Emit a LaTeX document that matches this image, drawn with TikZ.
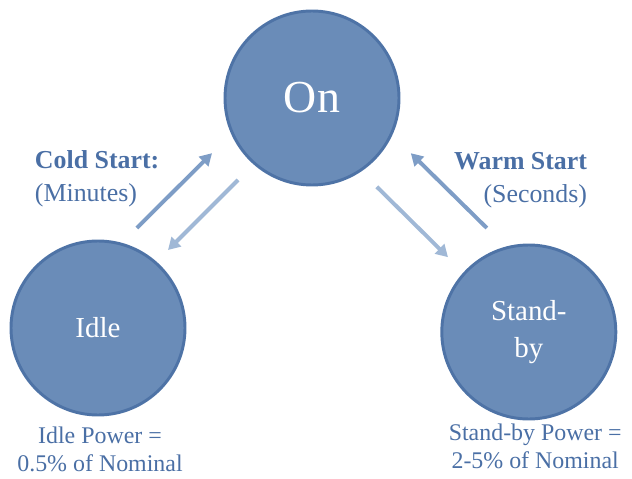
\documentclass[tikz,border=0pt]{standalone}
\usepackage{fontspec}
\setmainfont{Liberation Serif}
\usepackage{tikz}
\usetikzlibrary{arrows.meta}
\definecolor{statefill}{HTML}{6A8CB8}
\definecolor{stateline}{HTML}{4E73A6}
\definecolor{labelblue}{HTML}{4A6FA5}
\definecolor{arrowup}{HTML}{7E9DC6}
\definecolor{arrowdown}{HTML}{A0B8D6}

\begin{document}
\begin{tikzpicture}
\useasboundingbox (0,0) rectangle (15.8,11.95);
\begin{scope}[every node/.style={circle,fill=statefill,draw=stateline,line width=2.1pt,
              minimum size=4.35cm,text=white,align=center}]
    \node[font=\fontsize{32.6}{36}\selectfont] (On) at (7.8,9.5) {On};
    \node[font=\fontsize{20.6}{26}\selectfont] (Idle) at (2.45,3.75) {Idle};
    \node[font=\fontsize{20.6}{26}\selectfont] (Sby) at (13.22,3.65) {Stand-\\by};
\end{scope}

\begin{scope}[every node/.style={text=labelblue}]
    \node[anchor=west,align=left,font=\fontsize{18.4}{23.4}\selectfont] (cold) at (0.75,7.49)
        {\textbf{Cold Start:}\\(Minutes)};
    \node[anchor=east,align=right,font=\fontsize{18.4}{23.4}\selectfont] (warm) at (14.8,7.45)
        {\textbf{Warm Start}\\(Seconds)};
    \node[align=center,font=\fontsize{17}{20}\selectfont] (idlep) at (2.5,0.72)
        {Idle Power =\\0.5\% of Nominal};
    \node[align=center,font=\fontsize{17}{20}\selectfont] (sbyp) at (13.38,0.78)
        {Stand-by Power =\\2-5\% of Nominal};
\end{scope}

% free ends of the transition arrows
\coordinate (cu1) at (3.42,6.25);   \coordinate (cu2) at (5.3,8.12);
\coordinate (cd1) at (5.95,7.45);   \coordinate (cd2) at (4.2,5.7);
\coordinate (wu1) at (12.17,6.25);  \coordinate (wu2) at (10.27,8.12);
\coordinate (wd1) at (9.42,7.28);   \coordinate (wd2) at (11.2,5.52);

\begin{scope}[every path/.style={line width=2.8pt,-{Triangle[length=3mm,width=3.3mm]}}]
    \draw[arrowup]   (cu1) -- (cu2);
    \draw[arrowdown] (cd1) -- (cd2);
    \draw[arrowup]   (wu1) -- (wu2);
    \draw[arrowdown] (wd1) -- (wd2);
\end{scope}
\end{tikzpicture}
\end{document}
